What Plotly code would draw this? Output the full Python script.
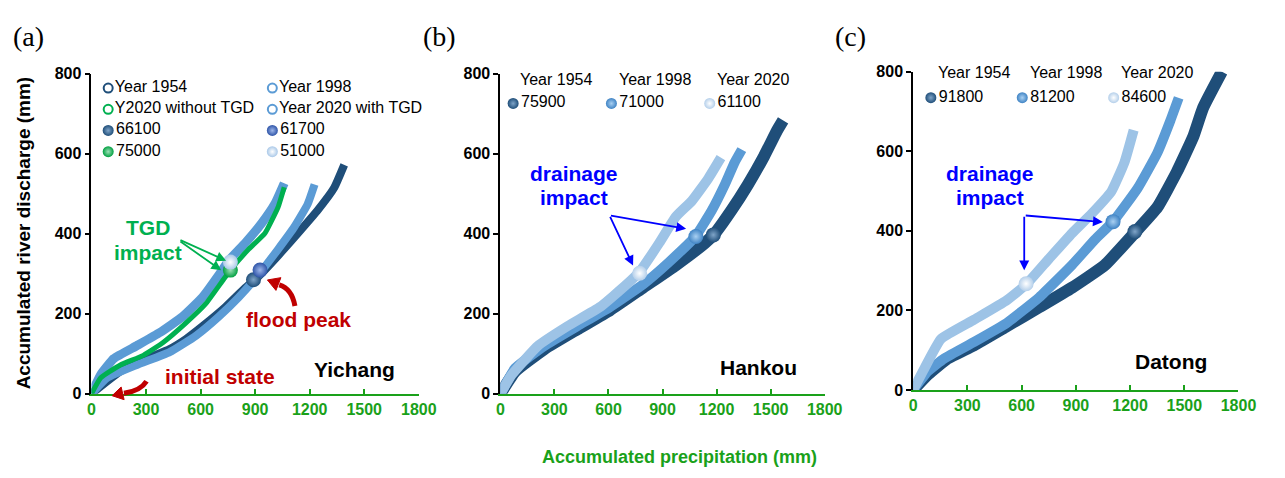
import plotly.graph_objects as go

# ---------------- data: accumulated precipitation P (mm) vs accumulated discharge Q (mm)
# Yichang
yc_p_1954 = [0, 159, 304, 430, 520, 611, 737, 846, 918, 1026, 1135, 1243, 1334, 1390]
yc_q_1954 = [0, 56, 88, 112, 137, 169, 217, 265, 293, 345, 401, 458, 514, 572]
yc_p_1998 = [0, 87, 249, 430, 575, 701, 810, 918, 1026, 1117, 1189, 1227]
yc_q_1998 = [0, 40, 72, 104, 145, 193, 241, 297, 361, 418, 474, 523]
yc_p_2020_tgd = [0, 51, 123, 249, 376, 502, 611, 701, 755, 846, 936, 1008, 1060]
yc_q_2020_tgd = [0, 48, 88, 120, 153, 193, 241, 297, 333, 377, 426, 474, 526]
yc_p_2020_nat = [0, 51, 159, 285, 394, 520, 629, 719, 764, 864, 954, 1026, 1060]
yc_q_2020_nat = [0, 40, 72, 96, 128, 177, 225, 281, 309, 361, 401, 466, 516]
yc_series = ["Year 1954", "Year 1998", "Y2020 without TGD", "Year 2020 with TGD"]
yc_peak_labels = ["66100", "61700", "75000", "51000"]
yc_peak_p = [891, 927, 764, 764]
yc_peak_q = [285, 309, 309, 329]

# Hankou
hk_p_1954 = [0, 82, 245, 427, 609, 791, 973, 1136, 1191, 1282, 1373, 1464, 1536, 1569]
hk_q_1954 = [0, 56, 112, 161, 209, 265, 321, 377, 401, 458, 522, 594, 658, 683]
hk_p_1998 = [0, 82, 245, 427, 609, 791, 936, 1082, 1173, 1245, 1300, 1340]
hk_q_1998 = [0, 64, 120, 169, 217, 273, 329, 393, 458, 522, 578, 610]
hk_p_2020 = [0, 64, 209, 373, 554, 700, 773, 882, 973, 1063, 1154, 1224]
hk_q_2020 = [0, 48, 120, 169, 217, 273, 305, 377, 442, 482, 538, 590]
hk_peak_labels = ["75900", "71000", "61100"]
hk_peak_p = [1182, 1085, 773]
hk_peak_q = [397, 393, 301]

# Datong
dt_p_1954 = [0, 82, 190, 335, 517, 698, 879, 1061, 1224, 1351, 1459, 1550, 1604, 1708]
dt_q_1954 = [0, 39, 79, 112, 160, 208, 257, 314, 394, 459, 548, 637, 709, 800]
dt_p_1998 = [0, 82, 172, 335, 517, 698, 879, 1006, 1106, 1242, 1351, 1423, 1469]
dt_q_1998 = [0, 47, 79, 120, 168, 233, 314, 378, 423, 507, 596, 677, 734]
dt_p_2020 = [0, 63, 154, 335, 517, 625, 752, 879, 988, 1097, 1169, 1220]
dt_q_2020 = [0, 55, 128, 176, 225, 265, 330, 394, 443, 499, 572, 653]
dt_peak_labels = ["91800", "81200", "84600"]
dt_peak_p = [1227, 1106, 625]
dt_peak_q = [398, 423, 267]

year_labels = ["Year 1954", "Year 1998", "Year 2020"]
x_ticks = [0, 300, 600, 900, 1200, 1500, 1800]
y_ticks = [0, 200, 400, 600, 800]

# ---------------- styling
W, H = 1285, 478
FONT = "Arial, Liberation Sans, sans-serif"
DARK = "#1F4E79"
MID = "#5B9BD5"
LIGHT = "#9DC3E6"
GREEN = "#00B050"
AXGREEN = "#1AA11A"
RED = "#C00000"
BLUE = "#0000FF"

# plot areas in pixels: (left, right, bottom, top)
PANELS = [(89, 422, 400, 68), (505, 835, 400, 68), (925, 1256, 396, 66)]

fig = go.Figure()


def band(xa, ya, p, q, color, width):
    fig.add_trace(go.Scatter(
        x=p, y=q, mode="lines", xaxis=xa, yaxis=ya,
        line=dict(color=color, width=width, shape="spline", smoothing=0.4),
        hoverinfo="skip", showlegend=False))


def spheres(xa, ya, p, q, colors, hilites, size=14):
    for xi, yi, c, h in zip(p, q, colors, hilites):
        fig.add_trace(go.Scatter(
            x=[xi], y=[yi], mode="markers", xaxis=xa, yaxis=ya,
            marker=dict(size=size, color=c, line=dict(width=0),
                        gradient=dict(type="radial", color=h)),
            hoverinfo="skip", showlegend=False, cliponaxis=False))


# panel (a) Yichang
band("x", "y", yc_p_1954, yc_q_1954, DARK, 8)
band("x", "y", yc_p_1998, yc_q_1998, MID, 8)
band("x", "y", yc_p_2020_tgd, yc_q_2020_tgd, MID, 9)
band("x", "y", yc_p_2020_nat, yc_q_2020_nat, GREEN, 5)
yc_cols = [DARK, "#2F55A8", "#00A040", "#A9C8E8"]
yc_hi = ["#7FA4C8", "#9DB6EA", "#9EE0B8", "#FFFFFF"]
spheres("x", "y", yc_peak_p, yc_peak_q, yc_cols, yc_hi, 15)

# panel (b) Hankou
band("x2", "y2", hk_p_1954, hk_q_1954, DARK, 12)
band("x2", "y2", hk_p_1998, hk_q_1998, MID, 10)
band("x2", "y2", hk_p_2020, hk_q_2020, LIGHT, 10)
sph_cols = [DARK, "#3F83C4", "#B4CFEA"]
sph_hi = ["#7FA4C8", "#A9D0F2", "#FFFFFF"]
spheres("x2", "y2", hk_peak_p, hk_peak_q, sph_cols, sph_hi, 15)

# panel (c) Datong
band("x3", "y3", dt_p_1954, dt_q_1954, DARK, 12)
band("x3", "y3", dt_p_1998, dt_q_1998, MID, 10)
band("x3", "y3", dt_p_2020, dt_q_2020, LIGHT, 10)
spheres("x3", "y3", dt_peak_p, dt_peak_q, sph_cols, sph_hi, 15)

# ---------------- legends, drawn on a full-figure pixel overlay (x4/y4)
LEG_FONT = dict(family=FONT, size=16, color="black")


def legend_item(x, y, label, marker):
    fig.add_trace(go.Scatter(
        x=[x], y=[y], mode="markers+text", text=[label], textposition="middle right",
        textfont=LEG_FONT, marker=marker, xaxis="x4", yaxis="y4",
        hoverinfo="skip", showlegend=False, cliponaxis=False))


def hollow(c):
    return dict(symbol="circle-open", size=9, color=c, line=dict(width=2, color=c))


def ball(c, h, size=11):
    return dict(size=size, color=c, line=dict(width=0), gradient=dict(type="radial", color=h))


rows_a = [83, 105, 127, 149]
cols_a = [106, 273]
legend_item(cols_a[0], rows_a[0], yc_series[0], hollow(DARK))
legend_item(cols_a[1], rows_a[0], yc_series[1], hollow(MID))
legend_item(cols_a[0], rows_a[1], yc_series[2], hollow(GREEN))
legend_item(cols_a[1], rows_a[1], yc_series[3], hollow(MID))
legend_item(cols_a[0], rows_a[2], yc_peak_labels[0], ball(yc_cols[0], yc_hi[0]))
legend_item(cols_a[1], rows_a[2], yc_peak_labels[1], ball(yc_cols[1], yc_hi[1]))
legend_item(cols_a[0], rows_a[3], yc_peak_labels[2], ball(yc_cols[2], yc_hi[2]))
legend_item(cols_a[1], rows_a[3], yc_peak_labels[3], ball(yc_cols[3], yc_hi[3]))

annotations = []
header_b = [562, 662, 762]
header_c = [987, 1080, 1173]
for i in range(3):
    legend_item(header_b[i] - 44, 99, hk_peak_labels[i], ball(sph_cols[i], sph_hi[i]))
    legend_item(header_c[i] - 44, 93, dt_peak_labels[i], ball(sph_cols[i], sph_hi[i]))
    annotations.append(dict(x=header_b[i], y=74, text=year_labels[i], showarrow=False,
                            xref="x4", yref="y4", font=LEG_FONT))
    annotations.append(dict(x=header_c[i], y=67, text=year_labels[i], showarrow=False,
                            xref="x4", yref="y4", font=LEG_FONT))


def label(x, y, text, color, size=21, bold=True, family=FONT, angle=0):
    annotations.append(dict(x=x, y=y, text=text, showarrow=False, xref="x4", yref="y4",
                            textangle=angle,
                            font=dict(family=family, size=size, color=color,
                                      weight="bold" if bold else "normal")))


def arrow(x0, y0, x1, y1, color, width=1.8):
    annotations.append(dict(x=x1, y=y1, ax=x0, ay=y0, xref="x4", yref="y4",
                            axref="x4", ayref="y4", text="", showarrow=True,
                            arrowhead=2, arrowsize=1.1, arrowwidth=width, arrowcolor=color))


# panel titles
SERIF = "Times New Roman, Liberation Serif, serif"
label(25, 30, "(a)", "black", 28, False, SERIF)
label(443, 30, "(b)", "black", 28, False, SERIF)
label(861, 30, "(c)", "black", 28, False, SERIF)

# station names
label(357, 375, "Yichang", "black")
label(768, 373, "Hankou", "black")
label(1187, 367, "Datong", "black")

# panel (a) notes
label(146, 228, "TGD", GREEN)
label(147, 253, "impact", GREEN)
arrow(178, 240, 226, 262, GREEN)
arrow(178, 241, 221, 272, GREEN)
label(300, 323, "flood peak", RED)
label(220, 382, "initial state", RED)

# panel (b) / (c) notes
label(580, 172, "drainage", BLUE)
label(580, 197, "impact", BLUE)
arrow(616, 215, 694, 229, BLUE)
arrow(616, 215, 640, 267, BLUE)
label(1003, 172, "drainage", BLUE)
label(1003, 197, "impact", BLUE)
arrow(1038, 215, 1038, 272, BLUE)
arrow(1038, 215, 1118, 222, BLUE)

# axis titles
label(20, 233, "Accumulated river discharge (mm)", "black", 19, angle=-90)
label(687, 466, "Accumulated precipitation (mm)", AXGREEN, 18)

# curved red arrows
shapes = [
    dict(type="path", xref="x4", yref="y4", path="M 296,309 Q 293,291 280,287",
         line=dict(color=RED, width=5)),
    dict(type="path", xref="x4", yref="y4", path="M 268,282 L 281.7,279.6 L 276.7,292.8 Z",
         line=dict(color=RED, width=1), fillcolor=RED),
    dict(type="path", xref="x4", yref="y4", path="M 145,387 Q 139,397 122,399.5",
         line=dict(color=RED, width=5)),
    dict(type="path", xref="x4", yref="y4", path="M 110,402 L 122.2,406.1 L 119.2,393.0 Z",
         line=dict(color=RED, width=1), fillcolor=RED),
]

# ---------------- axes
layout = dict(width=W, height=H, margin=dict(l=0, r=0, t=0, b=0),
              paper_bgcolor="white", plot_bgcolor="rgba(0,0,0,0)",
              showlegend=False, annotations=annotations, shapes=shapes)

for i, (l, r, b, t) in enumerate(PANELS):
    k = "" if i == 0 else str(i + 1)
    layout["xaxis" + k] = dict(
        domain=[l / W, r / W], range=[0, 1800], anchor="y" + k,
        tickvals=x_ticks, ticktext=[str(v) for v in x_ticks],
        ticks="inside", ticklen=5, tickwidth=1.5, tickcolor=AXGREEN,
        showline=True, linecolor=AXGREEN, linewidth=1.8, showgrid=False, zeroline=False,
        tickfont=dict(family=FONT, size=16, color=AXGREEN, weight="bold"),
        fixedrange=True)
    layout["yaxis" + k] = dict(
        domain=[1 - b / H, 1 - t / H], range=[0, 800], anchor="x" + k,
        tickvals=y_ticks, ticktext=[str(v) for v in y_ticks],
        ticks="outside", ticklen=5, tickwidth=1.5, tickcolor="black",
        showline=True, linecolor="black", linewidth=1.8, showgrid=False, zeroline=False,
        tickfont=dict(family=FONT, size=16, color="black", weight="bold"),
        fixedrange=True)

layout["xaxis4"] = dict(domain=[0, 1], range=[0, W], anchor="y4", visible=False, fixedrange=True)
layout["yaxis4"] = dict(domain=[0, 1], range=[H, 0], anchor="x4", visible=False, fixedrange=True)

fig.update_layout(**layout)
fig.write_html("out.html")
